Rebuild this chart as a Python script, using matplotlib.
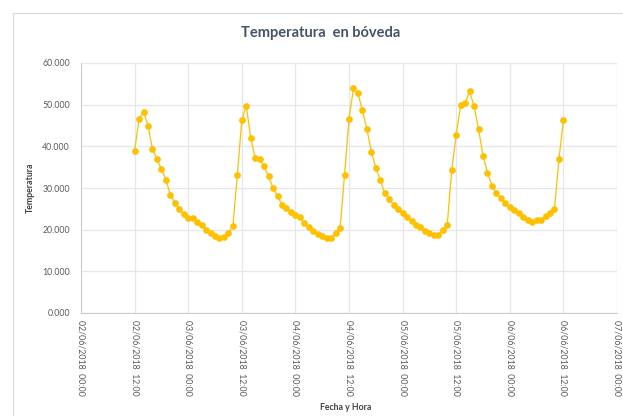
import matplotlib
matplotlib.use("Agg")
import matplotlib.pyplot as plt
import matplotlib.dates as mdates
from matplotlib.lines import Line2D
import numpy as np
import datetime as dt

plt.rcParams['font.family'] = ['Lato', 'DejaVu Sans']

start = dt.datetime(2018, 6, 2, 12, 0)
temperatures = [
    39.0, 46.5, 48.3, 45.0, 39.3, 37.0, 34.5, 32.0, 28.4, 26.5, 24.9, 23.7,
    22.7, 22.7, 21.9, 21.2, 20.0, 19.1, 18.5, 18.1, 18.3, 19.1, 20.8, 33.1,
    46.3, 49.8, 42.0, 37.2, 37.0, 35.2, 32.8, 30.0, 28.0, 26.0, 25.1, 24.2,
    23.5, 23.0, 21.7, 20.6, 19.7, 18.9, 18.4, 18.0, 18.0, 19.1, 20.4, 33.1,
    46.6, 53.9, 52.8, 48.6, 44.2, 38.7, 34.9, 31.9, 28.8, 27.3, 26.0, 24.9,
    23.9, 23.0, 22.2, 21.2, 20.6, 19.6, 19.2, 18.8, 18.8, 20.0, 21.2, 34.3,
    42.8, 49.9, 50.4, 53.2, 49.6, 44.1, 37.8, 33.7, 30.6, 28.8, 27.5, 26.3,
    25.5, 24.7, 23.9, 23.0, 22.4, 21.9, 22.3, 22.3, 23.2, 23.9, 24.9, 37.0,
    46.2,
]
times = [start + dt.timedelta(hours=i) for i in range(len(temperatures))]

title = "Temperatura  en bóveda"
x_label = "Fecha y Hora"
y_label = "Temperatura"
y_ticks = [0, 10, 20, 30, 40, 50, 60]
x_start = dt.datetime(2018, 6, 2, 0, 0)
x_end = dt.datetime(2018, 6, 7, 0, 0)

W, H = 623, 416
fig = plt.figure(figsize=(W / 100, H / 100), dpi=100)
fig.patch.set_facecolor('white')

# chart-area border (partial, as in the crop)
border_col = '#D9D9D9'
fig.add_artist(Line2D([13 / W, 1], [1 - 13 / H, 1 - 13 / H], transform=fig.transFigure,
                      color=border_col, lw=0.8))
fig.add_artist(Line2D([13 / W, 13 / W], [0, 1 - 13 / H], transform=fig.transFigure,
                      color=border_col, lw=0.8))

ax = fig.add_axes([81 / W, (H - 313) / H, (617 - 81) / W, (313 - 63) / H])

ax.plot(times, temperatures, color='#FFC000', lw=0.9, marker='o', markersize=3.8,
        markerfacecolor='#FFC000', markeredgecolor='#FFC000', zorder=3)

ax.set_xlim(x_start, x_end)
ax.set_ylim(0, 60)
ax.set_yticks(y_ticks)
ax.set_yticklabels([f"{v:.3f}" for v in y_ticks])

ticks = [x_start + dt.timedelta(hours=12 * i) for i in range(11)]
ax.set_xticks(ticks)
ax.set_xticklabels([t.strftime("%d/%m/%Y  %H:%M") for t in ticks], rotation=270,
                   va='top', ha='center')

ax.grid(True, color='#E4E7EC', lw=0.9)
ax.set_axisbelow(True)
for s in ['top', 'right']:
    ax.spines[s].set_visible(False)
for s in ['left', 'bottom']:
    ax.spines[s].set_color('#C9CDD3')
    ax.spines[s].set_linewidth(0.8)

ax.tick_params(axis='both', length=0, labelsize=6.3, colors='#595959')
ax.tick_params(axis='x', pad=5)
ax.tick_params(axis='y', pad=8)

fig.text(321 / W, 1 - 33 / H, title, ha='center', va='center', fontsize=10.5,
         fontweight='bold', color='#44546A')
fig.text(30 / W, 1 - 188 / H, y_label, ha='center', va='center', rotation=90,
         fontsize=6.3, fontweight='bold', color='#404040')
fig.text(346 / W, 1 - 408 / H, x_label, ha='center', va='center', fontsize=6.3,
         fontweight='bold', color='#404040')

fig.savefig('out.png', dpi=100, facecolor='white')
